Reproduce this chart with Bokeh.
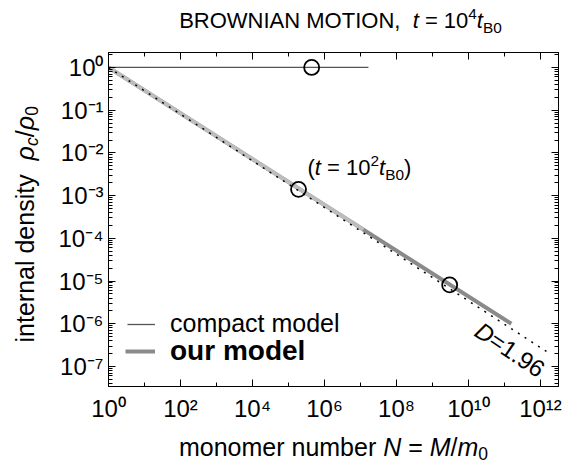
import math
from bokeh.plotting import figure
from bokeh.layouts import column, row
from bokeh.models import (Range1d, LogAxis, FixedTicker, CustomJSTickFormatter,
                          Label, Legend, LegendItem)
from bokeh.embed import file_html
from bokeh.resources import INLINE

# ---------------- data ----------------
compact_N = [1.0, 1.66e7]
compact_rho = [1.0, 1.0]
ours_t2_N = [1.0, 1.2e7]          # our model at t = 1e2 t_B0
ours_t2_rho = [1.0, 1.6e-4]
ours_t4_N = [1.0, 1.55e11]        # our model at t = 1e4 t_B0
ours_t4_rho = [1.0, 1.0e-6]
fractal_N = [1.0, 1.8e12]         # D = 1.96 guide line
fractal_rho = [1.0, 2.0e-7]
marker_N = [4.4e5, 1.9e5, 3.0e9]
marker_rho = [1.0, 1.4e-3, 8.1e-6]
x_major_exp = [0, 2, 4, 6, 8, 10, 12]
x_minor_exp = [1, 3, 5, 7, 9, 11]
y_major_exp = [0, -1, -2, -3, -4, -5, -6, -7]

FONT = "Liberation Sans"

# layout geometry (page pixels)
TOTAL_W = 570
TITLE_H = 40
YLAB_W = 45
MAIN_LEFT, MAIN_RIGHT, MAIN_TOP, MAIN_BOTTOM = 63, 12, 12, 40
FRAME_W, FRAME_H = 450, 334
XLAB_H = 39
MAIN_H = MAIN_TOP + FRAME_H + MAIN_BOTTOM
BASE_FIX = 0.35   # measured shift of the rendered baseline, in font sizes


def text_fig(w, h):
    f = figure(width=w, height=h, x_range=Range1d(0, 1), y_range=Range1d(0, 1),
               x_axis_location=None, y_axis_location=None,
               output_backend="svg", toolbar_location=None,
               min_border=0, min_border_left=0, min_border_right=0,
               min_border_top=0, min_border_bottom=0)
    f.outline_line_color = None
    f.xgrid.visible = False
    f.ygrid.visible = False
    f.background_fill_color = "white"
    f.border_fill_color = "white"
    return f


p = figure(frame_width=FRAME_W, frame_height=FRAME_H,
           x_axis_type="log", y_axis_type="log",
           x_range=Range1d(1.0, 10 ** 12.5), y_range=Range1d(10 ** -7.47, 10 ** 0.35),
           output_backend="svg", toolbar_location=None,
           min_border_left=MAIN_LEFT, min_border_right=MAIN_RIGHT,
           min_border_top=MAIN_TOP, min_border_bottom=MAIN_BOTTOM)
p.xgrid.visible = False
p.ygrid.visible = False
p.outline_line_color = "black"
p.outline_line_width = 1
p.background_fill_color = "white"
p.border_fill_color = "white"

fmt_code = """
const e = Math.round(Math.log10(tick));
const m = {"-":"\\u207b","0":"\\u2070","1":"\\u00b9","2":"\\u00b2","3":"\\u00b3",
           "4":"\\u2074","5":"\\u2075","6":"\\u2076","7":"\\u2077","8":"\\u2078","9":"\\u2079"};
return "10" + String(e).split("").map(c => m[c]).join("");
"""

xt = FixedTicker(ticks=[10.0 ** e for e in x_major_exp],
                 minor_ticks=[10.0 ** e for e in x_minor_exp])
yt = FixedTicker(ticks=[10.0 ** e for e in y_major_exp],
                 minor_ticks=[k * 10.0 ** e for e in range(-8, 1) for k in range(2, 10)])


def style_axis(ax, labels=True, standoff=6):
    ax.major_tick_in = 7
    ax.major_tick_out = 0
    ax.minor_tick_in = 4
    ax.minor_tick_out = 0
    ax.axis_line_color = "black"
    ax.major_tick_line_color = "black"
    ax.minor_tick_line_color = "black"
    if labels:
        ax.formatter = CustomJSTickFormatter(code=fmt_code)
        ax.major_label_text_font = FONT
        ax.major_label_text_font_size = "24px"
        ax.major_label_text_color = "black"
        ax.major_label_standoff = standoff
    else:
        ax.formatter = CustomJSTickFormatter(code="return '';")
        ax.major_label_text_font_size = "1px"
        ax.major_label_standoff = 0


p.xaxis[0].ticker = xt
p.yaxis[0].ticker = yt
style_axis(p.xaxis[0], standoff=8)
style_axis(p.yaxis[0], standoff=5)
top = LogAxis(ticker=xt)
right = LogAxis(ticker=yt)
style_axis(top, labels=False)
style_axis(right, labels=False)
p.add_layout(top, "above")
p.add_layout(right, "right")

# ---------------- curves ----------------
r_t4 = p.line(ours_t4_N, ours_t4_rho, line_color="#8a8a8a", line_width=4)
r_t2 = p.line(ours_t2_N, ours_t2_rho, line_color="#bdbdbd", line_width=4)
r_frac = p.line(fractal_N, fractal_rho, line_color="black", line_width=1.5, line_dash="2 6")
r_compact = p.line(compact_N, compact_rho, line_color="#555555", line_width=1.3)
p.scatter(marker_N, marker_rho, marker="circle", size=15, fill_color=None,
          line_color="black", line_width=1.8)

# ---------------- legends ----------------
leg1 = Legend(items=[LegendItem(label="compact model", renderers=[r_compact])],
              location=(19, 48), label_text_font=FONT, label_text_font_size="25px",
              label_text_color="black",
              glyph_width=28, glyph_height=28, label_height=28, label_standoff=15,
              padding=0, margin=0, spacing=0, border_line_color=None,
              background_fill_alpha=0)
leg2 = Legend(items=[LegendItem(label="our model", renderers=[r_t4])],
              location=(17, 19), label_text_font=FONT, label_text_font_size="28px",
              label_text_font_style="bold", label_text_color="black",
              glyph_width=30, glyph_height=30, label_height=30, label_standoff=15,
              padding=0, margin=0, spacing=0, border_line_color=None,
              background_fill_alpha=0)
p.add_layout(leg1)
p.add_layout(leg2)

# ---------------- rich text helper ----------------
W = {' ': 278, ',': 278, '=': 584, '(': 333, ')': 333, '/': 278, '.': 278, '-': 333,
     'A': 667, 'B': 667, 'D': 722, 'I': 278, 'M': 833, 'N': 722, 'O': 778, 'R': 722,
     'T': 611, 'W': 944, 'a': 556, 'b': 556, 'c': 500, 'd': 556, 'e': 556, 'i': 222,
     'l': 222, 'm': 833, 'n': 556, 'o': 556, 'p': 556, 'r': 333, 's': 500, 't': 278,
     'u': 556, 'y': 500, 'ρ': 580}


def tw(s):
    return sum(W.get(c, 556) for c in s) / 1000.0


def seg_size(style, size):
    return size * 0.7 if ("sup" in style or "sub" in style) else size


def total_width(segs, size):
    return sum(tw(t) * seg_size(st, size) for t, st in segs)


def rich(fig, origin, segs, x0, y0, size, angle=0.0):
    """Place styled text pieces; x0, y0 = page position of baseline start,
    origin = page position of the figure frame's bottom-left corner."""
    dx, dy = math.cos(angle), math.sin(angle)
    ux, uy = -math.sin(angle), math.cos(angle)
    sx, sy = x0 - origin[0], origin[1] - y0
    for text, style in segs:
        s = seg_size(style, size)
        off = BASE_FIX * s
        if "sup" in style:
            off += 0.42 * size
        elif "sub" in style:
            off += -0.18 * size
        core = text.strip()
        lead = text[:len(text) - len(text.lstrip())]
        trail = text[len(text.rstrip()):]
        w = tw(lead) * s
        sx += dx * w
        sy += dy * w
        if core:
            fig.add_layout(Label(x=sx + ux * off, y=sy + uy * off,
                                 x_units="screen", y_units="screen", text=core,
                                 angle=angle, text_align="left",
                                 text_baseline="alphabetic",
                                 text_font=FONT, text_font_size=f"{s:.1f}px",
                                 text_font_style="italic" if "i" in style else "normal",
                                 text_color="black"))
        w = tw(core + trail) * s
        sx += dx * w
        sy += dy * w


# ---- title ----
title_fig = text_fig(TOTAL_W, TITLE_H)
title_segs = [("BROWNIAN MOTION,  ", ""), ("t", "i"), (" = 10", ""), ("4", "sup"),
              ("t", "i"), ("B0", "sub")]
rich(title_fig, (0, TITLE_H), title_segs, 340 - total_width(title_segs, 22) / 2, 28, 22)

# ---- y label (its frame is aligned with the main frame) ----
ylab_fig = text_fig(YLAB_W, MAIN_H)
ylab_segs = [("internal density  ", ""), ("ρ", "i"), ("c", "isub"), ("/", ""),
             ("ρ", "i"), ("0", "sub")]
rich(ylab_fig, (0, TITLE_H + MAIN_TOP + FRAME_H), ylab_segs, 33, 342, 25,
     angle=math.pi / 2)

# ---- x label ----
xlab_fig = text_fig(TOTAL_W, XLAB_H)
xlab_segs = [("monomer number ", ""), ("N", "i"), (" = ", ""), ("M", "i"), ("/", ""),
             ("m", "i"), ("0", "sub")]
rich(xlab_fig, (0, TITLE_H + MAIN_H + XLAB_H), xlab_segs,
     333 - total_width(xlab_segs, 25) / 2, 455, 25)

# ---- annotations inside the main frame ----
FRAME_ORIGIN = (YLAB_W + MAIN_LEFT, TITLE_H + MAIN_TOP + FRAME_H)
ann_segs = [("(", ""), ("t", "i"), (" = 10", ""), ("2", "sup"), ("t", "i"),
            ("B0", "sub"), (")", "")]
rich(p, FRAME_ORIGIN, ann_segs, 307, 175, 22)

d_segs = [("D", "i"), ("=1.96", "")]
ang = math.radians(-34)
dsz = 24
wd = total_width(d_segs, dsz)
cx, cy = 500, 349   # page centre of the text
bx = cx - math.cos(ang) * wd / 2 - math.sin(ang) * 0.36 * dsz
by = cy + math.sin(ang) * wd / 2 + math.cos(ang) * 0.36 * dsz
rich(p, FRAME_ORIGIN, d_segs, bx, by, dsz, angle=ang)

layout = column(title_fig, row(ylab_fig, p, spacing=0), xlab_fig, spacing=0)
open("out.html", "w").write(file_html(layout, INLINE))
